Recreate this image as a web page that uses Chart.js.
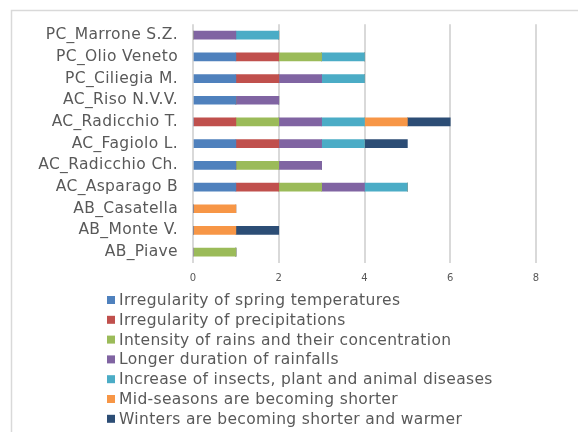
<!DOCTYPE html>
<html>
<head>
<meta charset="utf-8">
<script src="https://cdn.jsdelivr.net/npm/chart.js@4"></script>
<style>
  body { margin: 0; background: #fff; }
  canvas { display: block; }
</style>
</head>
<body>
<canvas id="myChart" width="578" height="432"></canvas>
<script>
const categorie = ["PC_Marrone S.Z.", "PC_Olio Veneto", "PC_Ciliegia M.", "AC_Riso N.V.V.", "AC_Radicchio T.",
  "AC_Fagiolo L.", "AC_Radicchio Ch.", "AC_Asparago B", "AB_Casatella", "AB_Monte V.", "AB_Piave"];

const primavera   = [0, 1, 1, 1, 0, 1, 1, 1, 0, 0, 0];
const precipit    = [0, 1, 1, 0, 1, 1, 0, 1, 0, 0, 0];
const intensita   = [0, 1, 0, 0, 1, 0, 1, 1, 0, 0, 1];
const durata      = [1, 0, 1, 1, 1, 1, 1, 1, 0, 0, 0];
const insetti     = [1, 1, 1, 0, 1, 1, 0, 1, 0, 0, 0];
const mezzeStag   = [0, 0, 0, 0, 1, 0, 0, 0, 1, 1, 0];
const inverni     = [0, 0, 0, 0, 1, 1, 0, 0, 0, 1, 0];

const xTicks = [0, 2, 4, 6, 8];

const FONT = '"DejaVu Sans", Verdana, sans-serif';
const GRIGIO = '#595959';

// bordo grigio della cornice (solo sinistra e sopra) + spaziatura lettere
const cornice = {
  id: 'cornice',
  beforeDraw(chart) {
    const ctx = chart.ctx;
    ctx.letterSpacing = '0.35px';
    ctx.save();
    ctx.strokeStyle = '#d9d9d9';
    ctx.lineWidth = 1.5;
    ctx.beginPath();
    ctx.moveTo(11.5, 432);
    ctx.lineTo(11.5, 10.5);
    ctx.lineTo(578, 10.5);
    ctx.stroke();
    ctx.restore();
  }
};

// legenda a elenco, una voce per riga
const legendaLista = {
  id: 'legendaLista',
  afterDraw(chart) {
    const ctx = chart.ctx;
    ctx.save();
    ctx.font = '15.5px ' + FONT;
    ctx.textBaseline = 'middle';
    chart.data.datasets.forEach((ds, i) => {
      let y = 300 + i * 19.8;
      ctx.fillStyle = ds.backgroundColor;
      ctx.fillRect(107, y - 4, 8, 8);
      ctx.fillStyle = GRIGIO;
      ctx.fillText(ds.label, 119, y + 1);
    });
    ctx.restore();
  }
};

function serie(label, data, colore) {
  return { label: label, data: data, backgroundColor: colore, borderWidth: 0, barThickness: 8 };
}

const ctx = document.getElementById('myChart').getContext('2d');
const myChart = new Chart(ctx, {
  type: 'bar',
  data: {
    labels: categorie,
    datasets: [
      serie('Irregularity of spring temperatures', primavera, '#4f81bd'),
      serie('Irregularity of precipitations', precipit, '#c0504d'),
      serie('Intensity of rains and their concentration', intensita, '#9bbb59'),
      serie('Longer duration of rainfalls', durata, '#8064a2'),
      serie('Increase of insects, plant and animal diseases', insetti, '#4bacc6'),
      serie('Mid-seasons are becoming shorter', mezzeStag, '#f79646'),
      serie('Winters are becoming shorter and warmer', inverni, '#2c4d75')
    ]
  },
  options: {
    indexAxis: 'y',
    responsive: false,
    animation: false,
    layout: { padding: { left: 20, right: 42, top: 24, bottom: 149 } },
    plugins: {
      legend: { display: false },
      tooltip: { enabled: false }
    },
    scales: {
      x: {
        stacked: true,
        min: 0,
        max: 8,
        afterBuildTicks(scale) { scale.ticks = xTicks.map(v => ({ value: v })); },
        afterFit(scale) { scale.height = 20; },
        grid: { color: '#d9d9d9', lineWidth: 2, drawTicks: false },
        border: { display: false },
        ticks: { color: GRIGIO, font: { family: FONT, size: 10 }, padding: 9 }
      },
      y: {
        stacked: true,
        afterFit(scale) { scale.width = 173; },
        grid: { display: false, drawTicks: false },
        border: { display: false },
        ticks: { color: GRIGIO, font: { family: FONT, size: 15.5 }, padding: 15, autoSkip: false }
      }
    }
  },
  plugins: [cornice, legendaLista]
});
</script>
</body>
</html>
